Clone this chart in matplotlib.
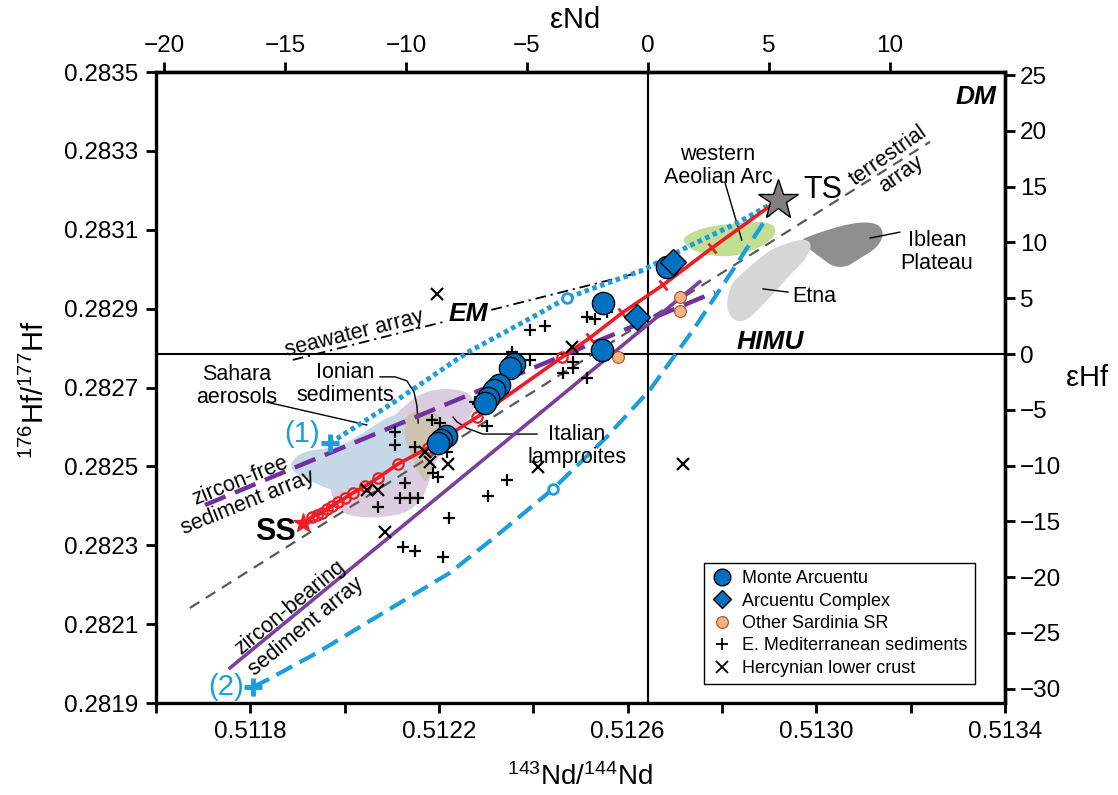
import numpy as np
import matplotlib
matplotlib.use('Agg')
import matplotlib.pyplot as plt
from matplotlib.patches import Polygon
from matplotlib.markers import MarkerStyle
from matplotlib.transforms import Affine2D
from matplotlib.lines import Line2D
from matplotlib.ticker import FormatStrFormatter, FixedLocator

plt.rcParams['font.family'] = ['Liberation Sans', 'DejaVu Sans']
plt.rcParams['mathtext.fontset'] = 'custom'
plt.rcParams['mathtext.rm'] = 'Liberation Sans'
plt.rcParams['mathtext.default'] = 'regular'

CHUR_ND = 0.512643
CHUR_HF = 0.282785

# --- samples ---
arcuentu_nd = [0.512683, 0.512548, 0.512546, 0.512359, 0.512351, 0.512327, 0.512317,
               0.512304, 0.512298, 0.512215, 0.512204, 0.512198]
arcuentu_hf = [0.283006, 0.282914, 0.282795, 0.282760, 0.282749, 0.282706, 0.282694,
               0.282673, 0.282661, 0.282577, 0.282567, 0.282559]
complex_nd = [0.512696, 0.512620]
complex_hf = [0.283018, 0.282879]
sardinia_nd = [0.512711, 0.512711, 0.512579]
sardinia_hf = [0.282930, 0.282894, 0.282777]
emed_nd = [0.512514, 0.512531, 0.512556, 0.512393, 0.512425, 0.512355, 0.512393, 0.512463,
           0.512484, 0.512484, 0.512514, 0.512283, 0.512302, 0.512185, 0.512202, 0.512217,
           0.512149, 0.512128, 0.512138, 0.512155, 0.512117, 0.512187, 0.512198, 0.512344,
           0.512304, 0.512221, 0.512107, 0.512107, 0.512071, 0.512124, 0.512149, 0.512208,
           0.512276]
emed_hf = [0.282879, 0.282874, 0.282892, 0.282846, 0.282856, 0.282790, 0.282770, 0.282737,
           0.282765, 0.282750, 0.282724, 0.282658, 0.282602, 0.282618, 0.282610, 0.282537,
           0.282549, 0.282458, 0.282420, 0.282420, 0.282420, 0.282483, 0.282473, 0.282466,
           0.282425, 0.282369, 0.282587, 0.282554, 0.282397, 0.282296, 0.282285, 0.282270,
           0.282663]
herc_nd = [0.512196, 0.512482, 0.512181, 0.512219, 0.512170, 0.512410, 0.512717, 0.512071,
           0.512085, 0.512047]
herc_hf = [0.282937, 0.282803, 0.282511, 0.282506, 0.282537, 0.282498, 0.282506, 0.282440,
           0.282334, 0.282440]

# --- end members ---
ts_nd, ts_hf = 0.512919, 0.283175
ss_nd, ss_hf = 0.511912, 0.282356
p1_nd, p1_hf = 0.511969, 0.282559
p2_nd, p2_hf = 0.511806, 0.281941

# --- mixing curves ---
red_circ_nd = [0.511931, 0.511941, 0.511952, 0.511963, 0.511973, 0.511986, 0.512001, 0.512018,
               0.512043, 0.512071, 0.512113, 0.512177, 0.512281, 0.512461]
red_circ_hf = [0.282372, 0.282377, 0.282382, 0.282392, 0.282400, 0.282410, 0.282420, 0.282433,
               0.282450, 0.282471, 0.282506, 0.282547, 0.282625, 0.282777]
red_tick_nd = [0.512520, 0.512588, 0.512675, 0.512779]
red_tick_hf = [0.282826, 0.282889, 0.282960, 0.283054]

dot_nd = [0.511969, 0.512096, 0.512259, 0.512399, 0.512471, 0.512633, 0.512726, 0.512832, 0.512919]
dot_hf = [0.282559, 0.282656, 0.282788, 0.282879, 0.282927, 0.282998, 0.283056, 0.283117, 0.283175]
dash_nd = [0.511806, 0.511835, 0.511941, 0.512081, 0.512223, 0.512329, 0.512442, 0.512556,
           0.512647, 0.512739, 0.512823, 0.512919]
dash_hf = [0.281941, 0.281958, 0.282027, 0.282128, 0.282230, 0.282331, 0.282443, 0.282575,
           0.282694, 0.282846, 0.282998, 0.283175]
dot_mark = (0.512471, 0.282927)
dash_mark = (0.512442, 0.282443)

# --- arrays ---
terr_nd, terr_hf = [0.511672, 0.513241], [0.282141, 0.283323]
sea_nd, sea_hf = [0.511890, 0.512630], [0.282770, 0.282993]
zfree_nd, zfree_hf = [0.511704, 0.512785], [0.282402, 0.282942]
zbear_nd, zbear_hf = [0.511757, 0.512753], [0.281989, 0.282968]

# --- fields ---
sahara_nd = [0.511884, 0.511912, 0.511990, 0.512039, 0.512090, 0.512117, 0.512139, 0.512149,
             0.512139, 0.512107, 0.512054, 0.511980, 0.511927, 0.511890]
sahara_hf = [0.282509, 0.282539, 0.282549, 0.282585, 0.282625, 0.282633, 0.282623, 0.282567,
             0.282491, 0.282453, 0.282440, 0.282435, 0.282463, 0.282486]
ionian_nd = [0.511969, 0.511984, 0.512026, 0.512117, 0.512160, 0.512177, 0.512192, 0.512223,
             0.512266, 0.512278, 0.512262, 0.512213, 0.512160, 0.512117, 0.512086, 0.512043,
             0.512001, 0.511973]
ionian_hf = [0.282440, 0.282389, 0.282369, 0.282374, 0.282407, 0.282453, 0.282511, 0.282567,
             0.282623, 0.282661, 0.282689, 0.282699, 0.282686, 0.282643, 0.282605, 0.282554,
             0.282504, 0.282471]
lamp_nd = [0.512124, 0.512139, 0.512166, 0.512196, 0.512206, 0.512202, 0.512189, 0.512181,
           0.512172, 0.512160, 0.512147, 0.512134, 0.512126]
lamp_hf = [0.282618, 0.282635, 0.282643, 0.282635, 0.282613, 0.282580, 0.282529, 0.282478,
           0.282458, 0.282478, 0.282511, 0.282547, 0.282580]
aeolian_nd = [0.512715, 0.512743, 0.512768, 0.512817, 0.512859, 0.512891, 0.512912, 0.512914,
              0.512895, 0.512859, 0.512823, 0.512785, 0.512753, 0.512726]
aeolian_hf = [0.283079, 0.283097, 0.283107, 0.283115, 0.283120, 0.283120, 0.283110, 0.283089,
              0.283066, 0.283044, 0.283033, 0.283033, 0.283041, 0.283056]
iblean_nd = [0.512965, 0.512997, 0.513035, 0.513071, 0.513107, 0.513135, 0.513143, 0.513129,
             0.513086, 0.513065, 0.513035, 0.513008, 0.512982]
iblean_hf = [0.283074, 0.283089, 0.283104, 0.283115, 0.283120, 0.283112, 0.283087, 0.283054,
             0.283023, 0.283006, 0.283006, 0.283031, 0.283054]
etna_nd = [0.512811, 0.512819, 0.512838, 0.512870, 0.512902, 0.512944, 0.512980, 0.512991,
           0.512976, 0.512948, 0.512919, 0.512885, 0.512849, 0.512823, 0.512811]
etna_hf = [0.282922, 0.282960, 0.282985, 0.283018, 0.283049, 0.283069, 0.283077, 0.283059,
           0.283023, 0.282990, 0.282952, 0.282907, 0.282866, 0.282871, 0.282897]

# --- label leaders ---
lead_aeolian = ([0.512806, 0.512842], [0.283221, 0.283074])
lead_iblean = ([0.513114, 0.513177], [0.283079, 0.283094])
lead_etna = ([0.512887, 0.512940], [0.282950, 0.282942])
lead_sahara = ([0.511835, 0.512047], [0.282663, 0.282605])
lead_ionian = ([0.512075, 0.512107, 0.512132, 0.512147, 0.512153, 0.512156],
               [0.282727, 0.282727, 0.282717, 0.282689, 0.282656, 0.282610])
lead_lamp = ([0.512408, 0.512293, 0.512259, 0.512238, 0.512230],
             [0.282582, 0.282582, 0.282597, 0.282613, 0.282625])

BLUE = '#0070C0'
CYAN = '#1B9DDE'
PURPLE = '#7030A0'
RED = '#EE1C25'


def smooth(xs, ys, n=3):
    p = np.column_stack([xs, ys])
    for _ in range(n):
        q = np.roll(p, -1, axis=0)
        p = np.column_stack([0.75 * p + 0.25 * q, 0.25 * p + 0.75 * q]).reshape(-1, 2)
    return p


fig = plt.figure(figsize=(11.18, 7.95), dpi=100)
ax = fig.add_axes([0.1395, 0.1157, 0.7594, 0.7937])
ax.set_xlim(0.5116, 0.5134)
ax.set_ylim(0.2819, 0.2835)

for xs, ys, c in [(iblean_nd, iblean_hf, '#8F8F8F'), (etna_nd, etna_hf, '#D6D6D6'),
                  (aeolian_nd, aeolian_hf, '#C2DE92'), (ionian_nd, ionian_hf, '#DCCCE0'),
                  (sahara_nd, sahara_hf, '#C5D8E8'), (lamp_nd, lamp_hf, '#CCC4AE')]:
    ax.add_patch(Polygon(smooth(xs, ys), closed=True, fc=c, ec='none', zorder=1))

ax.axvline(CHUR_ND, color='k', lw=1.5, zorder=2)
ax.axhline(CHUR_HF, color='k', lw=1.5, zorder=2)

for xs, ys in [lead_aeolian, lead_iblean, lead_etna, lead_sahara, lead_ionian, lead_lamp]:
    ax.plot(xs, ys, color='k', lw=1, zorder=2)

ax.plot(terr_nd, terr_hf, color='#595959', lw=1.6, dashes=(5, 3.5), zorder=3)
ax.plot(sea_nd, sea_hf, color='k', lw=1.3, dashes=(6, 2.7, 1.2, 2.7), zorder=3)
ax.plot(zfree_nd, zfree_hf, color=PURPLE, lw=3.2, dashes=(5, 2.3), zorder=3)
ax.plot(zbear_nd, zbear_hf, color='#7B3F9E', lw=2.6, zorder=3)

ax.plot(dot_nd, dot_hf, color=CYAN, lw=3.6, dashes=(0.9, 0.75), zorder=4)
ax.plot(dash_nd, dash_hf, color=CYAN, lw=3.0, dashes=(4.3, 2), zorder=4)
ax.plot(*dot_mark, ls='none', marker='o', ms=7, mfc='white', mec=CYAN, mew=2, zorder=5)
ax.plot(*dash_mark, ls='none', marker='o', ms=7, mfc='white', mec=CYAN, mew=2, zorder=5)

red_x = [ss_nd] + red_circ_nd + red_tick_nd + [ts_nd]
red_y = [ss_hf] + red_circ_hf + red_tick_hf + [ts_hf]
ax.plot(red_x, red_y, color=RED, lw=2.6, zorder=6)
ax.plot(red_circ_nd, red_circ_hf, ls='none', marker='o', ms=7.5, mfc='none', mec=RED,
        mew=1.6, zorder=6)
tick_marker = MarkerStyle('|', transform=Affine2D().rotate_deg(36))
ax.plot(red_tick_nd, red_tick_hf, ls='none', marker=tick_marker, ms=9, mec=RED, mew=2,
        zorder=6)
ax.plot(ss_nd, ss_hf, ls='none', marker='*', ms=15, color=RED, zorder=7)

ax.plot(emed_nd, emed_hf, ls='none', marker='+', ms=9, color='k', mew=1.6, zorder=7)
ax.plot(herc_nd, herc_hf, ls='none', marker='x', ms=8, color='k', mew=1.6, zorder=7)
ax.plot(sardinia_nd, sardinia_hf, ls='none', marker='o', ms=8.5, mfc='#F4B183',
        mec='#A0522D', mew=0.8, zorder=8)
ax.plot(arcuentu_nd, arcuentu_hf, ls='none', marker='o', ms=16, mfc=BLUE, mec='k',
        mew=1, zorder=8)
ax.plot(complex_nd, complex_hf, ls='none', marker='D', ms=13, mfc=BLUE, mec='k',
        mew=1, zorder=9)

ax.plot(p1_nd, p1_hf, ls='none', marker='+', ms=13, color=CYAN, mew=3.5, zorder=9)
ax.plot(p2_nd, p2_hf, ls='none', marker='+', ms=13, color=CYAN, mew=3.5, zorder=9)
ax.plot(ts_nd, ts_hf, ls='none', marker='*', ms=30, mfc='#808080', mec='k', mew=1,
        zorder=10)


def label(fx, fy, s, **kw):
    opts = dict(transform=ax.transAxes, ha='center', va='center', fontsize=15.5,
                linespacing=1.1, zorder=11, rotation_mode='anchor')
    opts.update(kw)
    ax.text(fx, fy, s, **opts)


label(0.9906, 0.960, 'DM', ha='right', fontweight='bold', style='italic', fontsize=19)
label(0.762, 0.813, 'TS', ha='left', fontsize=22)
label(0.870, 0.853, 'terrestrial\narray', rotation=35)
label(0.662, 0.851, 'western\nAeolian Arc')
label(0.920, 0.715, 'Iblean\nPlateau')
label(0.749, 0.645, 'Etna', ha='left')
label(0.3675, 0.6165, 'EM', fontsize=19, fontweight='bold', style='italic',
      bbox=dict(fc='white', ec='none', pad=1))
label(0.723, 0.572, 'HIMU', fontsize=19, fontweight='bold', style='italic')
label(0.234, 0.585, 'seawater array', rotation=14)
label(0.0954, 0.502, 'Sahara\naerosols')
label(0.2226, 0.5055, 'Ionian\nsediments')
label(0.172, 0.426, '(1)', fontsize=21, color=CYAN)
label(0.496, 0.407, 'Italian\nlamproites')
label(0.1037, 0.335, 'zircon-free\nsediment array', rotation=22, linespacing=1.15)
label(0.141, 0.271, 'SS', fontsize=22, fontweight='bold')
label(0.1673, 0.1363, 'zircon-bearing\nsediment array', rotation=39.5, linespacing=1.25)
label(0.0824, 0.025, '(2)', fontsize=21, color=CYAN)

# axes and ticks
ax.set_yticks(np.arange(0.2819, 0.28351, 0.0002))
ax.yaxis.set_major_formatter(FormatStrFormatter('%.4f'))
ax.set_xticks(np.arange(0.5118, 0.51341, 0.0004))
ax.xaxis.set_major_formatter(FormatStrFormatter('%.4f'))
ax.xaxis.set_minor_locator(FixedLocator(np.arange(0.5116, 0.51341, 0.0004)))
ax.tick_params(which='both', direction='out', length=7, width=2, labelsize=17.5, pad=6)
ax.tick_params(top=False, right=False)
for s in ax.spines.values():
    s.set_linewidth(2.4)

top = ax.secondary_xaxis('top', functions=(lambda x: (x / CHUR_ND - 1) * 1e4,
                                           lambda e: (e / 1e4 + 1) * CHUR_ND))
top.set_xticks(np.arange(-20, 11, 5))
top.tick_params(direction='out', length=7, width=2, labelsize=17.5, pad=4)
top.spines['top'].set_linewidth(2.4)

right = ax.secondary_yaxis('right', functions=(lambda y: (y / CHUR_HF - 1) * 1e4,
                                               lambda e: (e / 1e4 + 1) * CHUR_HF))
right.set_yticks(np.arange(-30, 26, 5))
right.tick_params(direction='out', length=7, width=2, labelsize=17.5, pad=4)
right.spines['right'].set_linewidth(2.4)

fig.text(0.5143, 0.9748, 'εNd', fontsize=21, ha='center', va='center')
fig.text(0.9723, 0.5245, 'εHf', fontsize=21, ha='center', va='center')

ax.set_xlabel('$^{143}$Nd/$^{144}$Nd', fontsize=20, va='center')
ax.xaxis.set_label_coords(0.4994, -0.117)
ax.set_ylabel('$^{176}$Hf/$^{177}$Hf', fontsize=21, va='center')
ax.yaxis.set_label_coords(-0.1425, 0.496)

handles = [
    Line2D([], [], ls='none', marker='o', ms=12, mfc=BLUE, mec='k', mew=1),
    Line2D([], [], ls='none', marker='D', ms=9, mfc=BLUE, mec='k', mew=1),
    Line2D([], [], ls='none', marker='o', ms=8.5, mfc='#F4B183', mec='#A0522D', mew=0.8),
    Line2D([], [], ls='none', marker='+', ms=9, color='k', mew=1.3),
    Line2D([], [], ls='none', marker='x', ms=8, color='k', mew=1.3),
]
labels = ['Monte Arcuentu', 'Arcuentu Complex', 'Other Sardinia SR',
          'E. Mediterranean sediments', 'Hercynian lower crust']
leg = ax.legend(handles, labels, loc='upper left', bbox_to_anchor=(0.6455, 0.222),
                borderaxespad=0, fontsize=13, frameon=True, fancybox=False,
                edgecolor='k', framealpha=1, handlelength=1.2, handletextpad=0.5,
                labelspacing=0.3, borderpad=0.4)
leg.get_frame().set_linewidth(1)
leg.set_zorder(12)

fig.savefig('out.png', dpi=100)
